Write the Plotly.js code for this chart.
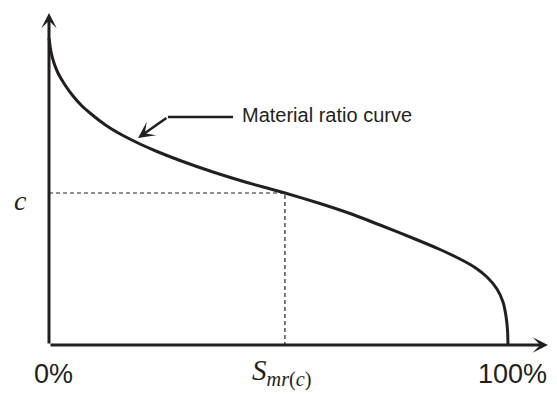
<!DOCTYPE html>
<html>
<head>
<meta charset="utf-8">
<script src="https://cdn.plot.ly/plotly-3.0.1.min.js"></script>
<style>html,body{margin:0;padding:0;background:#fff;}#chart{width:557px;height:394px;}</style>
</head>
<body>
<div id="chart"></div>
<script>
// Material ratio curve (x: material ratio in %, y: height)
const ratioPct = [0, 0.44, 1.09, 1.96, 3.49, 5.23, 7.19, 8.93, 11.11, 13.29, 16.12, 19.83, 23.53, 28.54, 35.73, 43.14, 51.42, 59.04, 65.58, 72.11, 79.74, 85.19, 89.54, 92.81, 95.42, 97.60, 98.91, 99.56, 99.89, 100];
const heightVal = [307, 293, 282, 272, 260, 249, 239, 232, 224, 217, 209.5, 201, 193.5, 184.5, 173, 162.5, 152, 141.5, 131.5, 120, 106, 95.5, 86, 77.5, 68, 56, 43, 29, 15, 0];
// Level c and corresponding material ratio Smr(c)
const cLevel = 152;
const smrAtC = 51.4;
// Tick labels
const xTickVals = [0.9, 101];
const xTickText = ['0%', '100%'];
const curveLabel = 'Material ratio curve';
const cLabel = '<i>c</i>';
const smrLabel = '<i>S</i><sub><i>mr</i>(<i>c</i>)</sub>';

const ink = '#231f20';

const traces = [
  {x: ratioPct, y: heightVal, mode: 'lines', line: {color: ink, width: 3, shape: 'spline', smoothing: 0.6}, hoverinfo: 'skip'},
  {x: [0, smrAtC, smrAtC], y: [cLevel, cLevel, 0], mode: 'lines', line: {color: ink, width: 1.2, dash: '4px,3px'}, hoverinfo: 'skip'}
];

const annotations = [
  // x axis arrow
  {x: 108.7, y: 0, ax: 0, ay: 0, axref: 'x', ayref: 'y', xref: 'x', yref: 'y', text: '', showarrow: true,
   arrowhead: 3, arrowsize: 0.85, arrowwidth: 3, arrowcolor: ink, standoff: 0, startstandoff: 0},
  // y axis arrow
  {x: 0, y: 332, ax: 0, ay: 0, axref: 'x', ayref: 'y', xref: 'x', yref: 'y', text: '', showarrow: true,
   arrowhead: 3, arrowsize: 0.85, arrowwidth: 3, arrowcolor: ink, standoff: 0, startstandoff: 0},
  // pointer to curve
  {x: 19.4, y: 207, ax: 25.9, ay: 228, axref: 'x', ayref: 'y', xref: 'x', yref: 'y', text: '', showarrow: true,
   arrowhead: 3, arrowsize: 1.1, arrowwidth: 2.5, arrowcolor: ink, standoff: 0},
  {x: 41.6, y: 230, xref: 'x', yref: 'y', text: curveLabel, showarrow: false, xanchor: 'left', yanchor: 'middle',
   font: {family: 'Liberation Sans, Arial, sans-serif', size: 20, color: ink}},
  {x: -6.3, y: 145, xref: 'x', yref: 'y', text: cLabel, showarrow: false, xanchor: 'center', yanchor: 'middle',
   font: {family: 'Liberation Serif, serif', size: 28, color: ink}},
  {x: smrAtC - 0.6, y: -27, xref: 'x', yref: 'y', text: smrLabel, showarrow: false, xanchor: 'center', yanchor: 'middle',
   font: {family: 'Liberation Serif, serif', size: 29, color: ink}}
];
xTickVals.forEach((v, i) => {
  annotations.push({x: v, y: -28.5, xref: 'x', yref: 'y', text: xTickText[i], showarrow: false, xanchor: 'center', yanchor: 'middle',
    font: {family: 'Liberation Sans, Arial, sans-serif', size: 27, color: ink}});
});

const layout = {
  width: 557, height: 394,
  margin: {l: 0, r: 0, t: 0, b: 0, pad: 0},
  paper_bgcolor: '#ffffff', plot_bgcolor: '#ffffff',
  showlegend: false,
  xaxis: {range: [-49 / 4.59, 508 / 4.59], visible: false, fixedrange: true},
  yaxis: {range: [-49, 345], visible: false, fixedrange: true},
  shapes: [
    {type: 'line', xref: 'x', yref: 'y', x0: 25.9, y0: 228, x1: 40.1, y1: 228, line: {color: ink, width: 2.5}}
  ],
  annotations: annotations
};

Plotly.newPlot('chart', traces, layout, {displayModeBar: false, staticPlot: true});
</script>
</body>
</html>
